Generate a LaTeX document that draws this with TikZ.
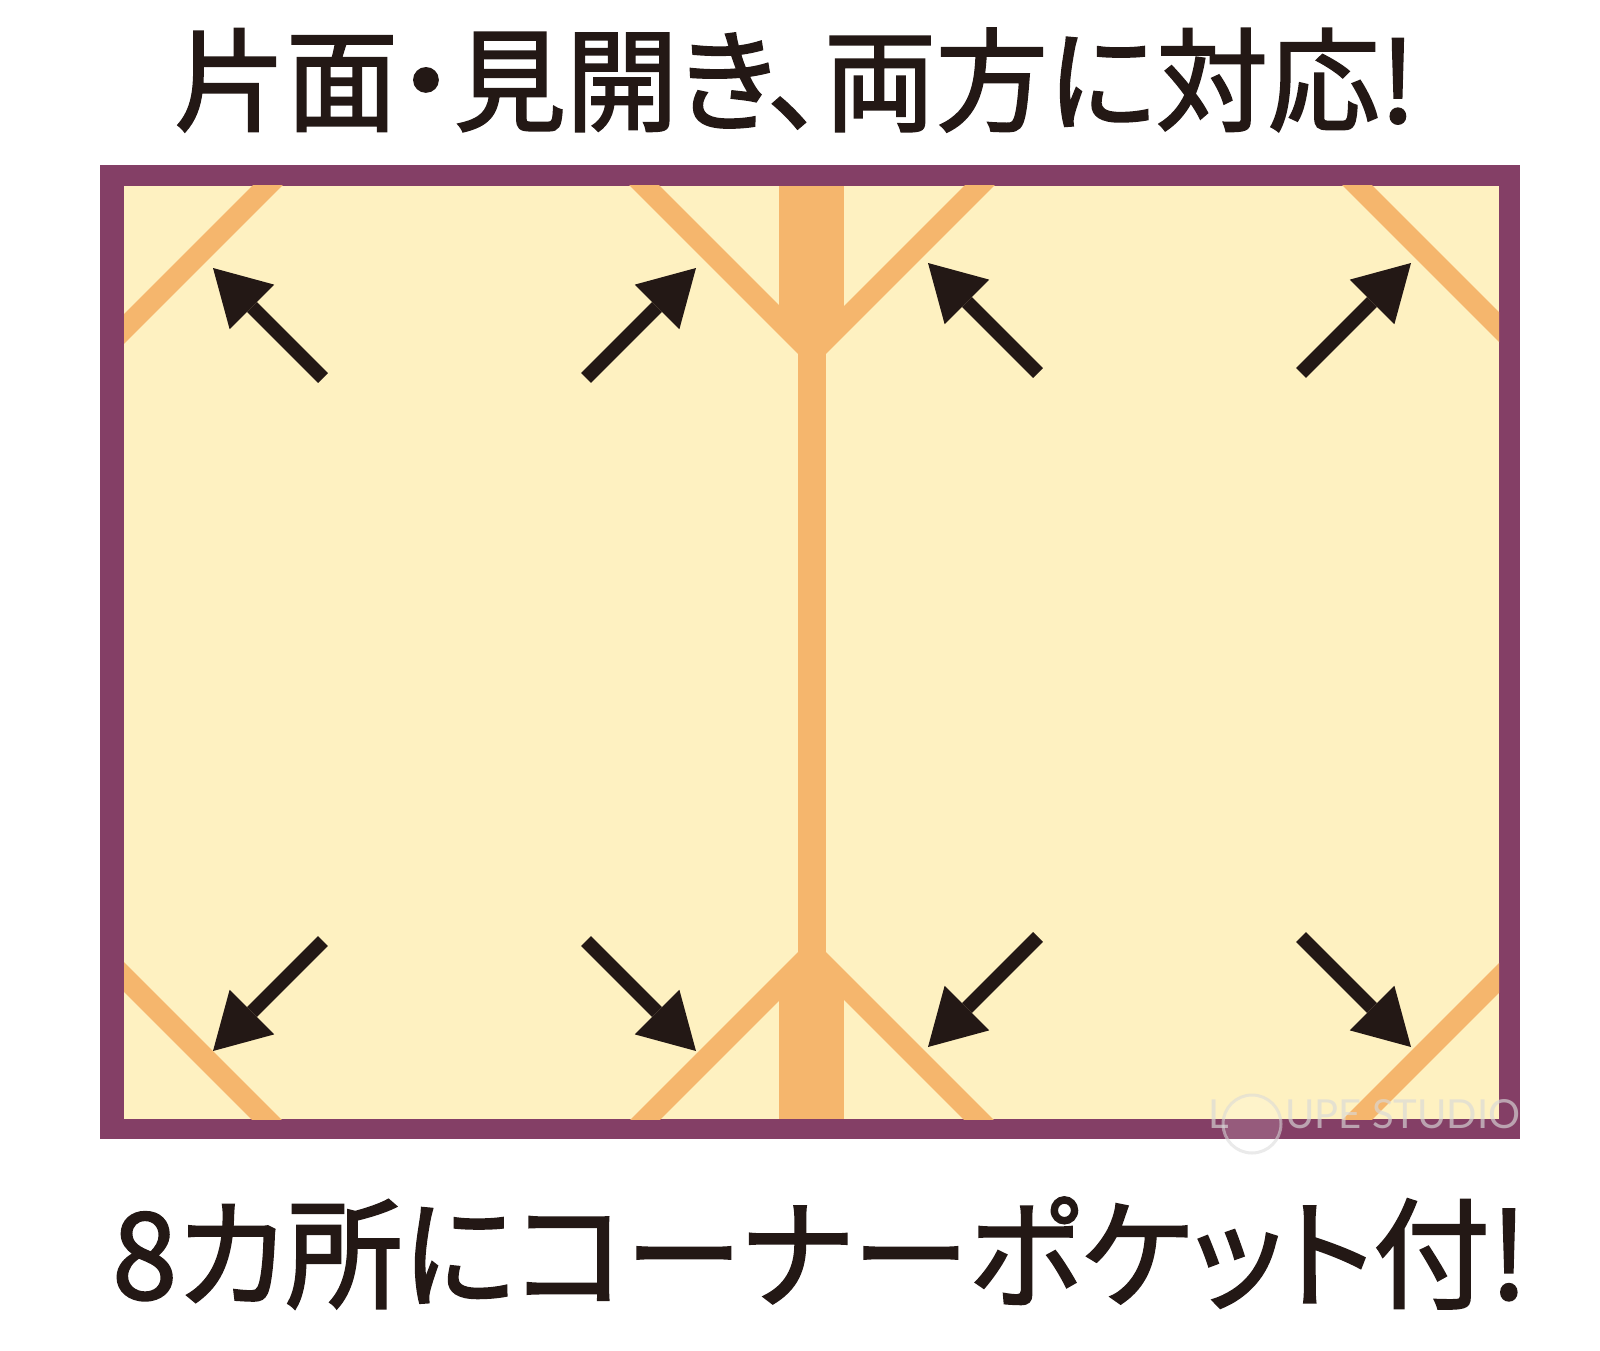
\documentclass[tikz,border=0pt]{standalone}
\usepackage{fontspec}
\newfontfamily\jpfont[RawFeature=+palt,FakeBold=1.8]{Noto Sans CJK JP}
\newfontfamily\wmfont{Lato}
\usetikzlibrary{arrows.meta}
\definecolor{framecol}{HTML}{843F66}
\definecolor{paper}{HTML}{FEF1C1}
\definecolor{pocket}{HTML}{F5B66D}
\definecolor{ink}{HTML}{231815}
\begin{document}
\begin{tikzpicture}[x=1pt,y=-1pt,
  bigarrow/.style={draw=ink, line width=14pt, -{Triangle[length=55pt,width=63pt,line width=0pt]}},
  band/.style={draw=pocket, line width=21pt},
  titletext/.style={inner sep=0pt, text=ink, font=\jpfont\fontsize{112}{112}\selectfont},
  wmtext/.style={inner sep=0pt, text=gray!30, opacity=0.65, font=\wmfont\fontsize{40}{40}\selectfont}]
\useasboundingbox[fill=white] (0,0) rectangle (1600,1351);
% frame and paper
\fill[framecol] (100,165) rectangle (1520,1139);
\fill[paper] (124,186) rectangle (1499,1119);
% corner pockets
\begin{scope}
\clip (124,186) rectangle (1499,1119);
\draw[band] (287,166) -- (105,348);
\draw[band] (1338,166) -- (1519,347);
\draw[band] (105,958) -- (287,1140);
\draw[band] (1519,958) -- (1337,1140);
\draw[band] (625,166) -- (812,353) -- (999,166);
\draw[band] (625,1140) -- (812,953) -- (999,1140);
\fill[pocket] (798,186) rectangle (826,1119);
\fill[pocket] (779,186) rectangle (844,333);
\fill[pocket] (779,973) rectangle (844,1119);
\end{scope}
% arrows
\coordinate (t1) at (323,378); \coordinate (h1) at (213,268);
\coordinate (t2) at (586,378); \coordinate (h2) at (696,268);
\coordinate (t3) at (1038,373); \coordinate (h3) at (928,263);
\coordinate (t4) at (1301,373); \coordinate (h4) at (1411,263);
\coordinate (t5) at (323,941); \coordinate (h5) at (213,1051);
\coordinate (t6) at (586,941); \coordinate (h6) at (696,1051);
\coordinate (t7) at (1038,937); \coordinate (h7) at (928,1047);
\coordinate (t8) at (1301,937); \coordinate (h8) at (1411,1047);
\foreach \i in {1,...,8} \draw[bigarrow] (t\i) -- (h\i);
% texts
\node[titletext] (title) at (795,80) {片面・見開き、両方に対応!};
\node[titletext, xscale=0.975, font=\jpfont\fontsize{120}{120}\selectfont] (caption) at (820,1253) {8カ所にコーナーポケット付!};
% watermark
\node[wmtext, anchor=west] (wmL) at (1208,1114) {L};
\node[draw=gray!30, line width=3pt, fill=white, fill opacity=0.15, draw opacity=0.55, circle, minimum size=58pt, inner sep=0pt] (wmO) at (1252,1124) {};
\node[wmtext, anchor=west] (wmrest) at (1285,1114) {UPE STUDIO};
\end{tikzpicture}
\end{document}
